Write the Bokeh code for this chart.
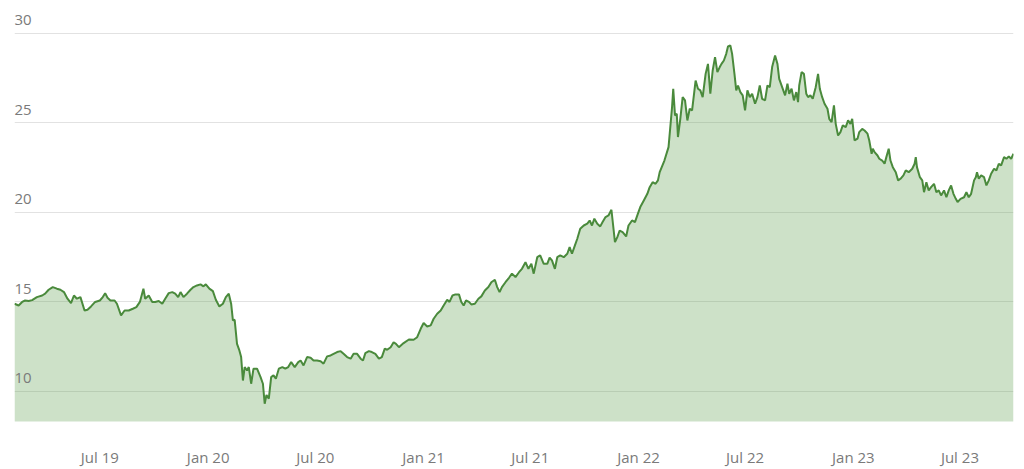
import pandas as pd
from bokeh.plotting import figure
from bokeh.models import Range1d, FixedTicker, ColumnDataSource, Grid
from bokeh.core.properties import value
from bokeh.embed import file_html
from bokeh.resources import INLINE

dates = [
    "2019-02-06", "2019-02-13", "2019-02-19", "2019-02-24", "2019-03-02", "2019-03-08", "2019-03-16", "2019-03-25",
    "2019-03-30", "2019-04-05", "2019-04-12", "2019-04-19", "2019-04-25", "2019-05-01", "2019-05-07", "2019-05-13",
    "2019-05-18", "2019-05-23", "2019-05-29", "2019-06-05", "2019-06-10", "2019-06-16", "2019-06-23", "2019-07-01",
    "2019-07-06", "2019-07-10", "2019-07-14", "2019-07-19", "2019-07-26", "2019-07-30", "2019-08-06", "2019-08-12",
    "2019-08-19", "2019-08-26", "2019-09-01", "2019-09-07", "2019-09-13", "2019-09-16", "2019-09-22", "2019-09-28",
    "2019-10-03", "2019-10-09", "2019-10-15", "2019-10-20", "2019-10-26", "2019-11-01", "2019-11-06", "2019-11-11",
    "2019-11-15", "2019-11-20", "2019-11-26", "2019-12-02", "2019-12-07", "2019-12-13", "2019-12-19", "2019-12-24",
    "2019-12-28", "2020-01-03", "2020-01-09", "2020-01-14", "2020-01-20", "2020-01-26", "2020-01-31", "2020-02-05",
    "2020-02-09", "2020-02-12", "2020-02-15", "2020-02-19", "2020-02-23", "2020-02-26", "2020-02-29", "2020-03-03",
    "2020-03-07", "2020-03-10", "2020-03-14", "2020-03-18", "2020-03-24", "2020-03-30", "2020-04-03", "2020-04-06",
    "2020-04-09", "2020-04-13", "2020-04-17", "2020-04-21", "2020-04-25", "2020-04-30", "2020-05-06", "2020-05-11",
    "2020-05-16", "2020-05-21", "2020-05-27", "2020-06-02", "2020-06-06", "2020-06-11", "2020-06-17", "2020-06-23",
    "2020-06-28", "2020-07-04", "2020-07-10", "2020-07-15", "2020-07-21", "2020-07-27", "2020-08-01", "2020-08-07",
    "2020-08-13", "2020-08-18", "2020-08-24", "2020-08-30", "2020-09-04", "2020-09-10", "2020-09-16", "2020-09-20",
    "2020-09-24", "2020-09-30", "2020-10-05", "2020-10-11", "2020-10-17", "2020-10-22", "2020-10-27", "2020-10-31",
    "2020-11-06", "2020-11-11", "2020-11-15", "2020-11-20", "2020-11-28", "2020-12-07", "2020-12-15", "2020-12-21",
    "2020-12-27", "2021-01-01", "2021-01-07", "2021-01-13", "2021-01-18", "2021-01-24", "2021-01-30", "2021-02-04",
    "2021-02-10", "2021-02-14", "2021-02-19", "2021-02-24", "2021-03-02", "2021-03-06", "2021-03-10", "2021-03-14",
    "2021-03-19", "2021-03-23", "2021-03-29", "2021-04-04", "2021-04-09", "2021-04-15", "2021-04-21", "2021-04-26",
    "2021-05-02", "2021-05-06", "2021-05-10", "2021-05-14", "2021-05-20", "2021-05-26", "2021-05-31", "2021-06-06",
    "2021-06-12", "2021-06-17", "2021-06-23", "2021-06-28", "2021-07-03", "2021-07-07", "2021-07-13", "2021-07-18",
    "2021-07-24", "2021-07-30", "2021-08-03", "2021-08-07", "2021-08-12", "2021-08-16", "2021-08-21", "2021-08-27",
    "2021-09-02", "2021-09-06", "2021-09-10", "2021-09-15", "2021-09-19", "2021-09-24", "2021-09-30", "2021-10-06",
    "2021-10-10", "2021-10-14", "2021-10-18", "2021-10-23", "2021-10-28", "2021-11-01", "2021-11-06", "2021-11-11",
    "2021-11-16", "2021-11-18", "2021-11-22", "2021-11-26", "2021-11-30", "2021-12-05", "2021-12-11", "2021-12-15",
    "2021-12-21", "2021-12-26", "2021-12-31", "2022-01-04", "2022-01-10", "2022-01-16", "2022-01-20", "2022-01-25",
    "2022-01-30", "2022-02-03", "2022-02-06", "2022-02-14", "2022-02-21", "2022-02-24", "2022-02-27", "2022-03-01",
    "2022-03-04", "2022-03-07", "2022-03-09", "2022-03-13", "2022-03-17", "2022-03-21", "2022-03-25", "2022-03-29",
    "2022-04-02", "2022-04-08", "2022-04-12", "2022-04-16", "2022-04-20", "2022-04-25", "2022-04-29", "2022-05-03",
    "2022-05-07", "2022-05-11", "2022-05-15", "2022-05-19", "2022-05-22", "2022-05-26", "2022-05-30", "2022-06-02",
    "2022-06-06", "2022-06-09", "2022-06-13", "2022-06-16", "2022-06-19", "2022-06-23", "2022-06-27", "2022-07-01",
    "2022-07-05", "2022-07-09", "2022-07-13", "2022-07-18", "2022-07-22", "2022-07-26", "2022-07-30", "2022-08-04",
    "2022-08-08", "2022-08-12", "2022-08-16", "2022-08-21", "2022-08-25", "2022-08-28", "2022-09-02", "2022-09-07",
    "2022-09-11", "2022-09-14", "2022-09-18", "2022-09-22", "2022-09-26", "2022-09-29", "2022-10-01", "2022-10-05",
    "2022-10-09", "2022-10-13", "2022-10-16", "2022-10-20", "2022-10-24", "2022-10-29", "2022-11-02", "2022-11-05",
    "2022-11-09", "2022-11-13", "2022-11-18", "2022-11-21", "2022-11-25", "2022-11-29", "2022-12-02", "2022-12-06",
    "2022-12-10", "2022-12-14", "2022-12-19", "2022-12-23", "2022-12-27", "2022-12-30", "2023-01-03", "2023-01-08",
    "2023-01-11", "2023-01-16", "2023-01-20", "2023-01-25", "2023-01-28", "2023-02-01", "2023-02-03", "2023-02-06",
    "2023-02-11", "2023-02-14", "2023-02-19", "2023-02-23", "2023-02-26", "2023-03-02", "2023-03-05", "2023-03-09",
    "2023-03-14", "2023-03-18", "2023-03-22", "2023-03-27", "2023-03-31", "2023-04-05", "2023-04-11", "2023-04-15",
    "2023-04-17", "2023-04-19", "2023-04-24", "2023-04-28", "2023-05-01", "2023-05-05", "2023-05-09", "2023-05-13",
    "2023-05-18", "2023-05-22", "2023-05-26", "2023-05-30", "2023-06-04", "2023-06-08", "2023-06-12", "2023-06-16",
    "2023-06-20", "2023-06-24", "2023-06-27", "2023-07-02", "2023-07-08", "2023-07-12", "2023-07-16", "2023-07-20",
    "2023-07-25", "2023-07-28", "2023-07-30", "2023-08-02", "2023-08-06", "2023-08-11", "2023-08-15", "2023-08-19",
    "2023-08-23", "2023-08-28", "2023-09-01", "2023-09-05", "2023-09-09", "2023-09-14", "2023-09-18", "2023-09-22",
    "2023-09-26", "2023-09-30",
]

prices = [
    14.90, 14.80, 15.00, 15.08, 15.05, 15.10, 15.27, 15.36,
    15.46, 15.68, 15.83, 15.74, 15.68, 15.55, 15.18, 14.93,
    15.36, 15.18, 15.27, 14.52, 14.56, 14.75, 15.00, 15.08,
    15.27, 15.49, 15.23, 15.08, 15.08, 14.90, 14.25, 14.52,
    14.52, 14.62, 14.71, 15.00, 15.74, 15.18, 15.36, 15.00,
    15.00, 15.05, 14.90, 15.18, 15.49, 15.55, 15.46, 15.27,
    15.55, 15.27, 15.46, 15.68, 15.83, 15.92, 15.98, 15.87,
    15.98, 15.74, 15.60, 15.12, 14.75, 14.90, 15.27, 15.46,
    14.90, 13.97, 14.00, 12.66, 12.29, 11.92, 10.61, 11.36,
    11.17, 11.36, 10.43, 11.27, 11.27, 10.80, 10.43, 9.31,
    9.80, 9.60, 10.80, 10.90, 10.71, 11.27, 11.36, 11.27,
    11.36, 11.64, 11.36, 11.64, 11.73, 11.45, 11.92, 11.88,
    11.73, 11.73, 11.69, 11.55, 11.96, 12.01, 12.10, 12.20,
    12.25, 12.10, 11.92, 11.83, 12.10, 12.10, 11.83, 11.73,
    12.14, 12.25, 12.20, 12.10, 11.83, 11.92, 12.39, 12.33,
    12.47, 12.75, 12.66, 12.47, 12.70, 12.90, 12.89, 13.03,
    13.50, 13.82, 13.63, 13.69, 14.06, 14.34, 14.52, 14.80,
    15.12, 15.00, 15.36, 15.42, 15.42, 15.00, 14.80, 15.08,
    15.00, 14.86, 14.90, 15.18, 15.31, 15.64, 15.83, 16.10,
    16.24, 15.83, 15.55, 15.83, 16.10, 16.35, 16.58, 16.39,
    16.66, 16.85, 17.22, 16.85, 17.13, 16.58, 17.50, 17.60,
    17.13, 17.13, 17.47, 17.32, 16.85, 17.50, 17.60, 17.50,
    17.69, 18.06, 17.69, 18.16, 18.53, 19.09, 19.27, 19.37,
    19.55, 19.27, 19.65, 19.37, 19.22, 19.46, 19.74, 19.83,
    20.15, 19.55, 18.34, 18.62, 18.99, 18.90, 18.66, 19.27,
    19.55, 19.46, 19.93, 20.30, 20.67, 21.04, 21.41, 21.69,
    21.60, 21.79, 22.25, 22.90, 23.65, 24.77, 25.88, 26.91,
    25.42, 25.51, 24.21, 25.23, 26.44, 26.26, 25.14, 25.79,
    25.70, 27.37, 26.91, 26.82, 26.44, 27.74, 28.30, 26.63,
    27.93, 28.68, 27.84, 28.12, 28.30, 28.49, 28.86, 29.27,
    29.33, 28.86, 27.74, 26.82, 27.09, 26.72, 26.54, 25.70,
    26.82, 26.44, 26.63, 26.07, 26.44, 27.09, 26.35, 26.26,
    27.09, 27.00, 28.12, 28.77, 28.30, 27.46, 27.00, 26.54,
    27.19, 26.63, 26.91, 26.26, 26.72, 26.16, 27.09, 27.84,
    27.74, 26.63, 26.44, 26.54, 26.35, 27.00, 27.74, 26.91,
    26.44, 26.07, 25.79, 25.23, 25.04, 25.98, 24.95, 24.30,
    24.49, 24.86, 24.77, 25.14, 24.95, 25.23, 24.02, 24.12,
    24.49, 24.67, 24.58, 24.40, 24.02, 23.28, 23.56, 23.37,
    23.18, 23.00, 22.90, 22.72, 23.09, 23.56, 22.90, 22.53,
    22.25, 21.79, 21.88, 22.07, 22.35, 22.25, 22.44, 22.72,
    23.09, 22.53, 21.97, 21.79, 21.13, 21.69, 21.23, 21.41,
    21.60, 21.13, 21.23, 20.95, 21.23, 20.85, 21.23, 21.51,
    21.04, 20.76, 20.58, 20.76, 20.85, 21.13, 20.85, 21.04,
    21.79, 21.97, 22.25, 21.88, 22.07, 21.97, 21.51, 21.79,
    22.16, 22.44, 22.35, 22.72, 22.63, 23.09, 23.00, 23.13,
    23.00, 23.28,
]

y_ticks = [10, 15, 20, 25, 30]
y_tick_labels = ["10", "15", "20", "25", "30"]
x_tick_dates = ["2019-07-01", "2020-01-01", "2020-07-01", "2021-01-01", "2021-07-01",
                "2022-01-01", "2022-07-01", "2023-01-01", "2023-07-01"]
x_tick_labels = ["Jul 19", "Jan 20", "Jul 20", "Jan 21", "Jul 21",
                 "Jan 22", "Jul 22", "Jan 23", "Jul 23"]

dt = pd.to_datetime(dates)
src = ColumnDataSource(dict(date=dt, price=prices))

FONT = "Open Sans"
TEXT_COLOR = "#7a7a7a"

p = figure(width=1024, height=469, x_axis_type="datetime", y_axis_location=None,
           output_backend="svg", toolbar_location=None,
           x_range=Range1d(dt[0], dt[-1]), y_range=Range1d(8.32, 31.84),
           min_border_left=14, min_border_right=11, min_border_top=0, min_border_bottom=48)
p.outline_line_color = None
p.background_fill_color = "white"
p.border_fill_color = "white"
p.xgrid.visible = False
for g in p.ygrid:
    g.visible = False

grid = Grid(dimension=1, ticker=FixedTicker(ticks=y_ticks),
            grid_line_color="#e2e2e2", grid_line_width=1)
p.add_layout(grid)

p.varea(x="date", y1=0, y2="price", source=src, fill_color="#5a9a4a", fill_alpha=0.3)
p.line(x="date", y="price", source=src, line_color="#4a8a3c", line_width=2)

p.text(x=[dt[0]] * len(y_ticks), y=y_ticks, text=y_tick_labels,
       y_offset=-8, text_baseline="bottom", text_align="left",
       text_font=value(FONT), text_font_size="15px", text_color=TEXT_COLOR)

tick_ms = [float(t.value // 10**6) for t in pd.to_datetime(x_tick_dates)]
p.xaxis.ticker = FixedTicker(ticks=tick_ms)
p.xaxis.major_label_overrides = {ms: lab for ms, lab in zip(tick_ms, x_tick_labels)}
p.xaxis.axis_line_color = None
p.xaxis.major_tick_line_color = None
p.xaxis.minor_tick_line_color = None
p.xaxis.major_tick_out = 0
p.xaxis.major_label_standoff = 25
p.xaxis.major_label_text_font = FONT
p.xaxis.major_label_text_font_size = "15px"
p.xaxis.major_label_text_color = TEXT_COLOR

open("out.html", "w").write(file_html(p, INLINE))
